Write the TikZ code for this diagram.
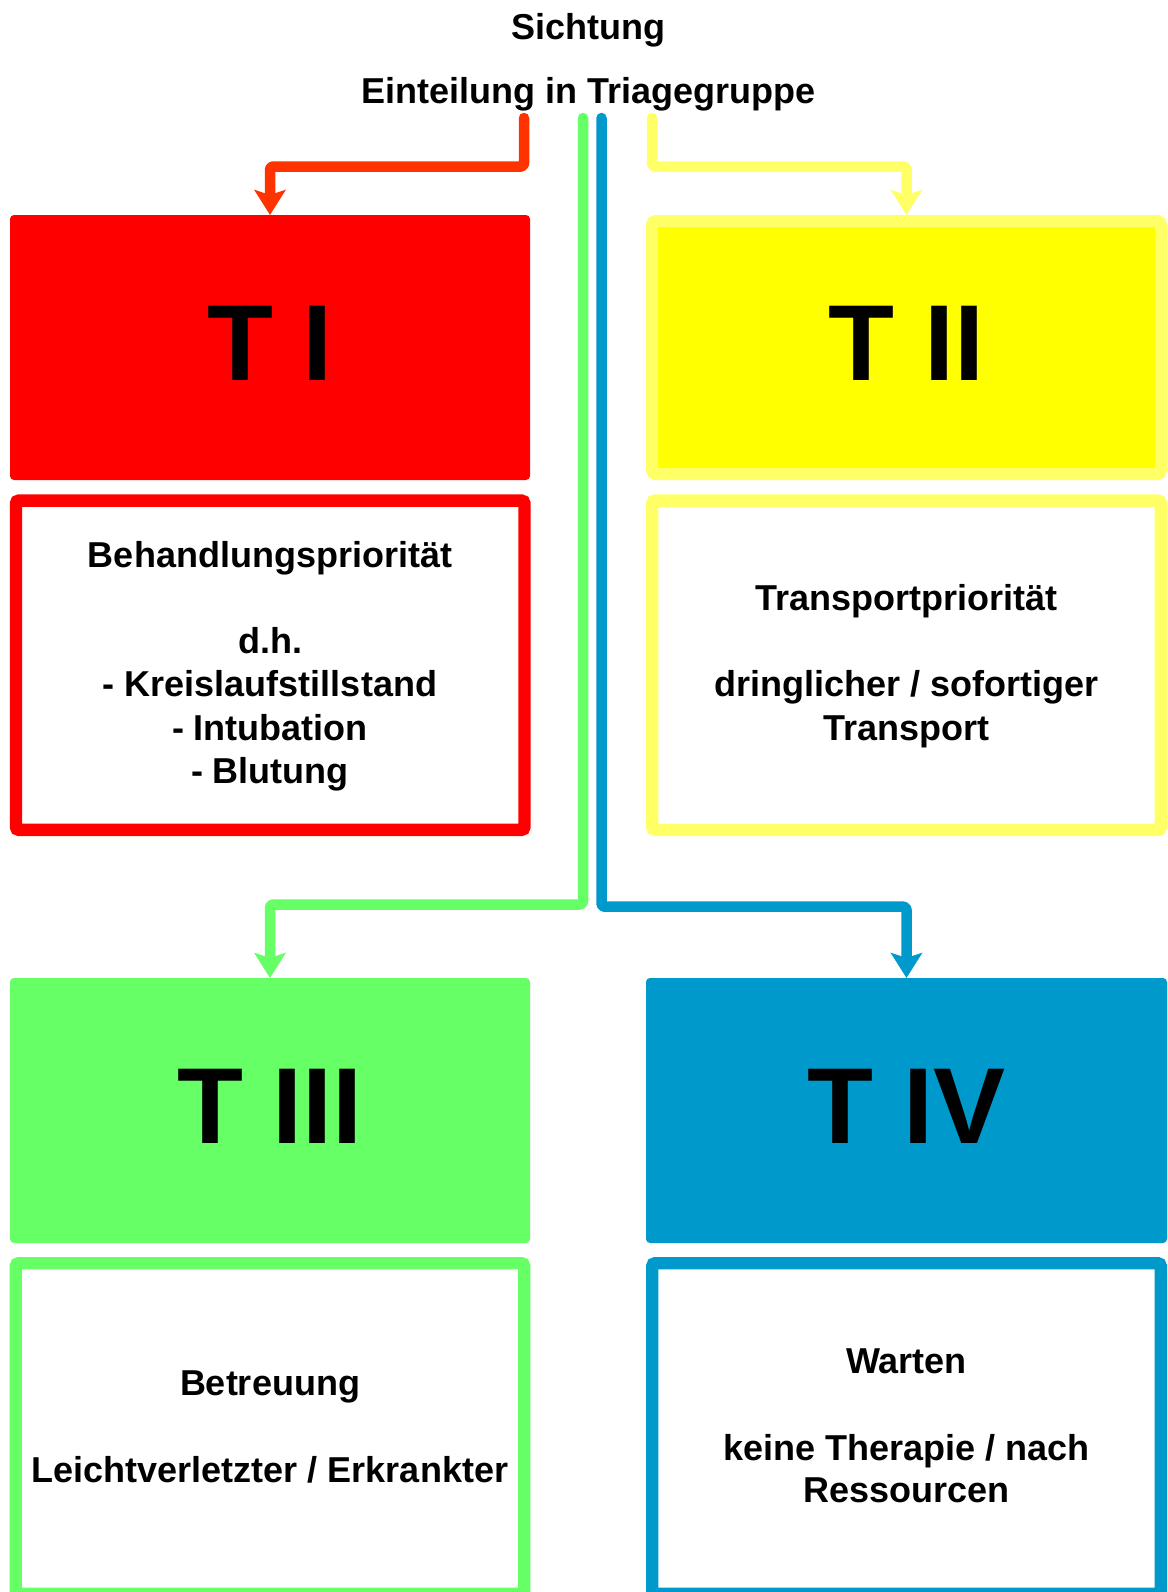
\documentclass[tikz,border=0pt]{standalone}
\usepackage{fontspec}
\setmainfont{Liberation Sans}
\usetikzlibrary{arrows.meta}
\definecolor{cRedA}{HTML}{FF3300}
\definecolor{cRedF}{HTML}{FF0000}
\definecolor{cYelA}{HTML}{FFFF66}
\definecolor{cYelF}{HTML}{FFFF00}
\definecolor{cGrn}{HTML}{66FF66}
\definecolor{cBlu}{HTML}{0099CC}
\begin{document}
\begin{tikzpicture}[x=1pt,y=-1pt,
  txt/.style={font=\bfseries\fontsize{36}{43}\selectfont, anchor=base, inner sep=0pt},
  big/.style={font=\bfseries\fontsize{108}{120}\selectfont, anchor=base, inner sep=0pt},
  fillbox/.style={rectangle, rounded corners=4pt, inner sep=0pt, outer sep=0pt, minimum width=520pt, minimum height=265pt},
  framebox/.style={rectangle, rounded corners=3pt, inner sep=0pt, fill=white, line width=12.4pt, minimum width=508.5pt},
  arr/.style={line width=10.5pt, line cap=round, line join=round, rounded corners=3pt, -{Stealth[length=25pt,width=31pt,inset=5pt]}}
]
\useasboundingbox (0,0) rectangle (1167,1592);
\clip (0,0) rectangle (1167,1592);
\fill[white] (0,0) rectangle (1167,1592);

% header
\node[txt] (sicht) at (588.6,40) {Sichtung};
\node[txt] (eint) at (588.6,104) {Einteilung in Triagegruppe};

% T I
\node[fillbox, fill=cRedF] (t1box) at (270,347.5) {};
\node[big] (t1) at (270,380) {T I};
\node[framebox, draw=cRedF, minimum height=329.3pt] (f1) at (270.2,665.2) {};
\node[txt] (f1a) at (270,567) {Behandlungspriorität};
\node[txt] (f1b) at (270,653.5) {d.h.};
\node[txt] (f1c) at (270,696.5) {- Kreislaufstillstand};
\node[txt] (f1d) at (270,740) {- Intubation};
\node[txt] (f1e) at (270,783) {- Blutung};

% T II
\node[rectangle, rounded corners=4pt, inner sep=0pt, fill=cYelF, draw=cYelA, line width=12pt, minimum width=509pt, minimum height=253pt] (t2box) at (906.5,347.5) {};
\node[big] (t2) at (906.5,380) {T II};
\node[framebox, draw=cYelA, minimum height=329.3pt] (f2) at (906.5,665.2) {};
\node[txt] (f2a) at (906.5,610) {Transportpriorität};
\node[txt] (f2b) at (906.5,696.5) {dringlicher / sofortiger};
\node[txt] (f2c) at (906.5,740) {Transport};

% T III
\node[fillbox, fill=cGrn] (t3box) at (270,1110.5) {};
\node[big] (t3) at (270,1143) {T III};
\node[framebox, draw=cGrn, minimum height=330.6pt] (f3) at (270,1428.5) {};
\node[txt] (f3a) at (270,1395) {Betreuung};
\node[txt] (f3b) at (270,1482) {Leichtverletzter / Erkrankter};

% T IV
\node[fillbox, fill=cBlu, minimum width=521pt] (t4box) at (906.5,1110.5) {};
\node[big] (t4) at (906.5,1143) {T IV};
\node[framebox, draw=cBlu, minimum height=330.6pt] (f4) at (906.5,1428.5) {};
\node[txt] (f4a) at (906.5,1373) {Warten};
\node[txt] (f4b) at (906.5,1460) {keine Therapie / nach};
\node[txt] (f4c) at (906.5,1502) {Ressourcen};

% connectors
\coordinate (sR) at (524,118);
\coordinate (sG) at (583,118);
\coordinate (sB) at (601.5,118);
\coordinate (sY) at (652,118);
\coordinate (kR) at (270,166.5);
\coordinate (kY) at (906.5,166.5);
\coordinate (kG) at (270,904.5);
\coordinate (kB) at (906.5,906.7);

\draw[arr, cRedA] (sR) |- (kR) -- (t1box.north);
\draw[arr, cYelA] (sY) |- (kY) -- (t2box.north);
\draw[arr, cGrn] (sG) |- (kG) -- (t3box.north);
\draw[arr, cBlu] (sB) |- (kB) -- (t4box.north);
\end{tikzpicture}
\end{document}
